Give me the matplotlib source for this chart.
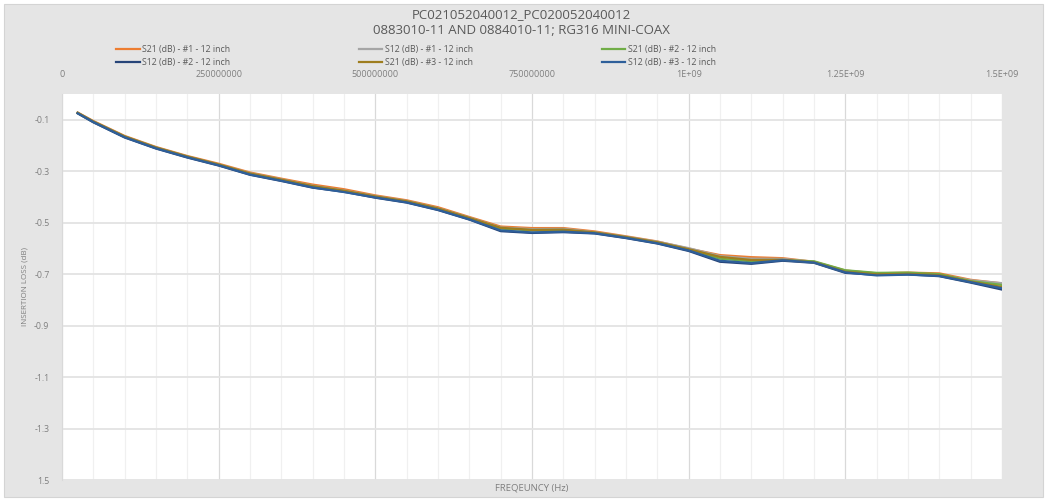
import matplotlib
matplotlib.use("Agg")
import matplotlib.pyplot as plt
from matplotlib.patches import Rectangle
from matplotlib.ticker import MultipleLocator

# frequency points (Hz) and insertion loss (dB)
freq_mhz = [25, 50, 100, 150, 200, 250, 300, 350, 400, 450, 500, 550, 600, 650, 700, 750,
            800, 850, 900, 950, 1000, 1050, 1100, 1150, 1200, 1250, 1300, 1350, 1400, 1450, 1500]
freq = [f * 1e6 for f in freq_mhz]

s21_1 = [-0.072, -0.105, -0.163, -0.206, -0.241, -0.271, -0.305, -0.329, -0.352, -0.370, -0.394,
         -0.413, -0.440, -0.478, -0.515, -0.521, -0.521, -0.534, -0.553, -0.573, -0.601, -0.626,
         -0.634, -0.638, -0.652, -0.686, -0.697, -0.694, -0.697, -0.722, -0.736]
s12_1 = [-0.073, -0.107, -0.165, -0.208, -0.243, -0.274, -0.308, -0.332, -0.357, -0.375, -0.397,
         -0.416, -0.444, -0.481, -0.519, -0.525, -0.524, -0.537, -0.555, -0.574, -0.599, -0.630,
         -0.640, -0.641, -0.652, -0.690, -0.700, -0.698, -0.702, -0.724, -0.735]
s21_2 = [-0.074, -0.108, -0.166, -0.209, -0.244, -0.275, -0.310, -0.334, -0.359, -0.378, -0.400,
         -0.418, -0.446, -0.483, -0.523, -0.530, -0.530, -0.539, -0.557, -0.577, -0.605, -0.640,
         -0.650, -0.646, -0.650, -0.685, -0.695, -0.694, -0.700, -0.727, -0.742]
s12_2 = [-0.075, -0.110, -0.169, -0.212, -0.247, -0.278, -0.314, -0.338, -0.364, -0.380, -0.403,
         -0.422, -0.451, -0.488, -0.533, -0.540, -0.537, -0.542, -0.560, -0.581, -0.610, -0.652,
         -0.660, -0.648, -0.656, -0.695, -0.703, -0.701, -0.708, -0.733, -0.760]
s21_3 = [-0.073, -0.107, -0.165, -0.208, -0.243, -0.274, -0.309, -0.333, -0.358, -0.376, -0.398,
         -0.417, -0.445, -0.482, -0.520, -0.528, -0.527, -0.538, -0.556, -0.576, -0.603, -0.633,
         -0.645, -0.644, -0.654, -0.691, -0.701, -0.699, -0.704, -0.729, -0.750]
s12_3 = [-0.075, -0.109, -0.168, -0.211, -0.246, -0.277, -0.313, -0.337, -0.363, -0.381, -0.402,
         -0.421, -0.450, -0.487, -0.530, -0.538, -0.535, -0.541, -0.559, -0.580, -0.608, -0.648,
         -0.657, -0.646, -0.655, -0.693, -0.705, -0.702, -0.707, -0.731, -0.755]

series = [
    ("S21 (dB) - #1 - 12 inch", s21_1, "#ED7D31"),
    ("S12 (dB) - #1 - 12 inch", s12_1, "#A5A5A5"),
    ("S21 (dB) - #2 - 12 inch", s21_2, "#70AD47"),
    ("S12 (dB) - #2 - 12 inch", s12_2, "#264478"),
    ("S21 (dB) - #3 - 12 inch", s21_3, "#9E7D1E"),
    ("S12 (dB) - #3 - 12 inch", s12_3, "#2E5F9A"),
]

xticks = [0, 250e6, 500e6, 750e6, 1e9, 1.25e9, 1.5e9]
xtick_labels = ["0", "250000000", "500000000", "750000000", "1E+09", "1.25E+09", "1.5E+09"]
yticks = [-1.5, -1.3, -1.1, -0.9, -0.7, -0.5, -0.3, -0.1]
ytick_labels = ["1.5", "-1.3", "-1.1", "-0.9", "-0.7", "-0.5", "-0.3", "-0.1"]

plt.rcParams['font.family'] = ['Open Sans', 'DejaVu Sans']
txt = "#595959"

W, H = 1047, 501
fig = plt.figure(figsize=(W / 100, H / 100), dpi=100, facecolor="white")
fig.patches.append(Rectangle((4 / W, 4 / H), 1039 / W, 493 / H, transform=fig.transFigure,
                             facecolor="#e5e5e5", edgecolor="#d4d4d4", lw=0.8, zorder=-10))

ax = fig.add_axes([62 / W, (H - 480) / H, 940 / W, 386 / H])
ax.set_facecolor("white")

for name, vals, col in series:
    ax.plot(freq, vals, color=col, lw=1.6, label=name)

ax.set_xlim(0, 1.5e9)
ax.set_ylim(-1.5, 0)
ax.set_xticks(xticks)
ax.set_xticklabels(xtick_labels)
ax.xaxis.set_minor_locator(MultipleLocator(50e6))
ax.set_yticks(yticks)
ax.set_yticklabels(ytick_labels)
ax.xaxis.tick_top()
ax.tick_params(axis="both", which="both", length=0, labelcolor="#7f7f7f")
ax.tick_params(axis="x", pad=11, labelsize=6.5)
ax.tick_params(axis="y", pad=9, labelsize=6.3)

ax.grid(axis="y", which="major", color="#e3e3e3", lw=1.3)
ax.grid(axis="x", which="major", color="#d9d9d9", lw=0.9)
ax.grid(axis="x", which="minor", color="#f0f0f0", lw=0.9)
ax.set_axisbelow(True)
for s in ax.spines.values():
    s.set_visible(False)
ax.spines["left"].set_visible(True)
ax.spines["left"].set_color("#d9d9d9")

fig.text(25 / W, 1 - 287 / H, "INSERTION LOSS (dB)", rotation=90, ha="center", va="center",
         fontsize=5.8, color="#7f7f7f")
fig.text(532 / W, 1 - 488 / H, "FREQEUNCY (Hz)", ha="center", va="center", fontsize=6.8, color="#7f7f7f")

fig.text(521 / W, 1 - 15 / H, "PC021052040012_PC020052040012", ha="center", va="center",
         fontsize=9.5, color=txt)
fig.text(521 / W, 1 - 31 / H, "0883010-11 AND 0884010-11; RG316 MINI-COAX", ha="center", va="center",
         fontsize=9.5, color=txt)

# legend reads row by row in the reference, matplotlib fills columns first
handles, labels = ax.get_legend_handles_labels()
order = [0, 3, 1, 4, 2, 5]
leg = fig.legend([handles[i] for i in order], [labels[i] for i in order], ncol=3, mode="expand",
                 loc="lower left", bbox_to_anchor=(116 / W, 1 - 67 / H, 600 / W, 28 / H),
                 frameon=False, fontsize=6.3, handlelength=2.7, handletextpad=0.3,
                 labelspacing=0.45, borderaxespad=0, borderpad=0)
for t in leg.get_texts():
    t.set_color(txt)

fig.savefig("out.png", dpi=100, facecolor=fig.get_facecolor())
